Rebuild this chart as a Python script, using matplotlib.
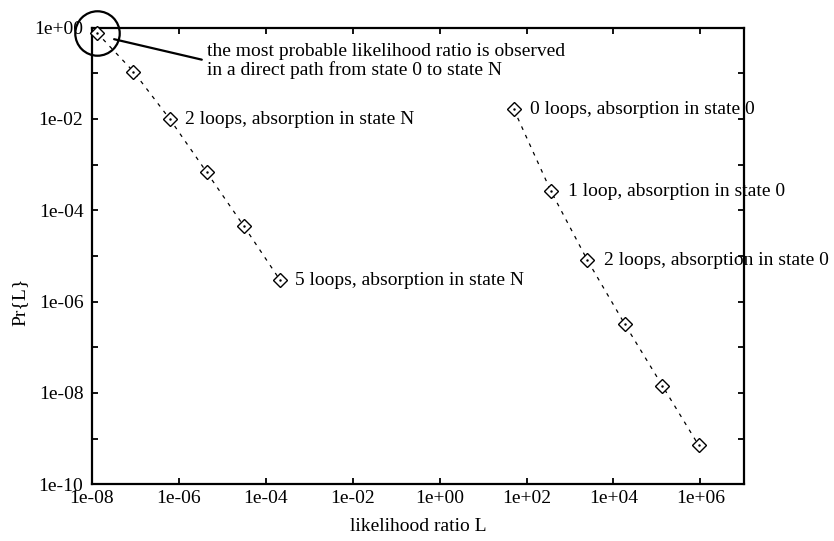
import matplotlib
matplotlib.use("Agg")
import matplotlib.pyplot as plt
from matplotlib.ticker import FixedLocator, NullLocator, NullFormatter

plt.rcParams['font.family'] = ['Liberation Serif', 'DejaVu Serif']

# ---- data ----
x_absorb_N = [1.3e-8, 9.1e-8, 6.3e-7, 4.4e-6, 3.1e-5, 2.14e-4]
y_absorb_N = [0.78, 1.09e-1, 9.8e-3, 6.8e-4, 4.6e-5, 2.95e-6]

x_absorb_0 = [51, 363, 2.5e3, 1.82e4, 1.32e5, 9.1e5]
y_absorb_0 = [1.62e-2, 2.63e-4, 8.1e-6, 3.2e-7, 1.45e-8, 7.1e-10]

labels_N = {2: "2 loops, absorption in state N", 5: "5 loops, absorption in state N"}
labels_0 = {0: "0 loops, absorption in state 0", 1: "1 loop, absorption in state 0",
            2: "2 loops, absorption in state 0"}

x_ticks = [1e-8, 1e-6, 1e-4, 1e-2, 1e0, 1e2, 1e4, 1e6]
x_ticklabels = ["1e-08", "1e-06", "1e-04", "1e-02", "1e+00", "1e+02", "1e+04", "1e+06"]
y_ticks = [1e-10, 1e-8, 1e-6, 1e-4, 1e-2, 1e0]
y_ticklabels = ["1e-10", "1e-08", "1e-06", "1e-04", "1e-02", "1e+00"]
y_minor = [1e-9, 1e-7, 1e-5, 1e-3, 1e-1]

note_text = "the most probable likelihood ratio is observed\nin a direct path from state 0 to state N"

FS = 14

fig = plt.figure(figsize=(8.34, 5.41), dpi=100)
ax = fig.add_axes([0.110, 0.105, 0.782, 0.844])
ax.set_xscale('log')
ax.set_yscale('log')
ax.set_xlim(1e-8, 1e7)
ax.set_ylim(1e-10, 1e0)

for xs, ys in ((x_absorb_N, y_absorb_N), (x_absorb_0, y_absorb_0)):
    ax.plot(xs, ys, color='black', lw=0.9, linestyle=(0, (3, 4.5)),
            marker='D', markersize=7.5, markerfacecolor='white',
            markeredgecolor='black', markeredgewidth=1.0, clip_on=False, zorder=3)
    ax.plot(xs, ys, linestyle='none', marker='.', markersize=1.5,
            color='black', clip_on=False, zorder=4)

for i, t in labels_N.items():
    ax.annotate(t, (x_absorb_N[i], y_absorb_N[i]), xytext=(11, 0),
                textcoords='offset points', ha='left', va='center', fontsize=FS)
for i, t in labels_0.items():
    ax.annotate(t, (x_absorb_0[i], y_absorb_0[i]), xytext=(12, 0),
                textcoords='offset points', ha='left', va='center', fontsize=FS)

# circle around the most probable point
ax.plot([x_absorb_N[0]], [y_absorb_N[0]], marker='o', markersize=32,
        markerfacecolor='none', markeredgecolor='black', markeredgewidth=1.6,
        linestyle='none', clip_on=False, zorder=5)

ax.annotate(note_text, xy=(3.27e-8, 0.557), xytext=(4.54e-6, 0.186),
            ha='left', va='center', fontsize=FS, linespacing=1.05,
            arrowprops=dict(arrowstyle='-', lw=1.6, color='black',
                            shrinkA=2, shrinkB=0, relpos=(0, 0.5)))

ax.set_xticks(x_ticks)
ax.set_xticklabels(x_ticklabels)
ax.xaxis.set_minor_locator(NullLocator())
ax.set_yticks(y_ticks)
ax.set_yticklabels(y_ticklabels)
ax.yaxis.set_minor_locator(FixedLocator(y_minor))
ax.yaxis.set_minor_formatter(NullFormatter())

ax.tick_params(which='both', direction='in', top=True, right=True,
               length=4, width=1.3, labelsize=FS)
ax.tick_params(axis='x', pad=4)
ax.tick_params(axis='y', pad=6)

for s in ax.spines.values():
    s.set_linewidth(1.6)

ax.set_xlabel("likelihood ratio L", fontsize=FS)
ax.set_ylabel("Pr{L}", fontsize=FS)
ax.xaxis.set_label_coords(0.5, -0.075)
ax.yaxis.label.set_va('center')
ax.yaxis.set_label_coords(-0.11, 0.40)

fig.savefig("out.png", dpi=100)
